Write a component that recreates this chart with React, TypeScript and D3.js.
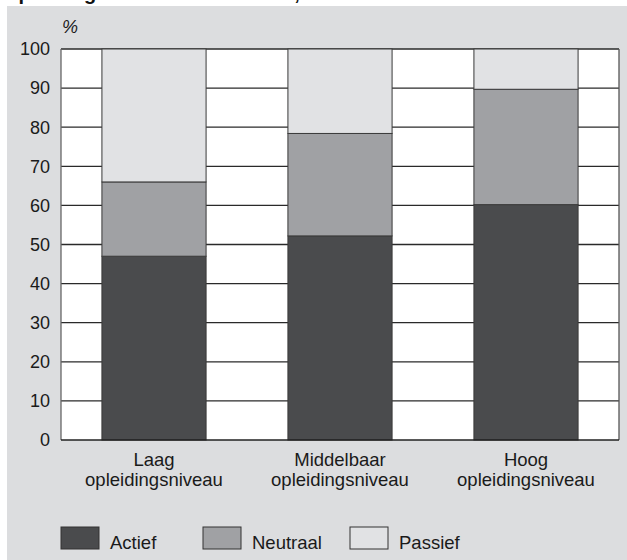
import * as d3 from "d3";

const categories = ["Laag|opleidingsniveau", "Middelbaar|opleidingsniveau", "Hoog|opleidingsniveau"];
const seriesNames = ["Actief", "Neutraal", "Passief"];
const actief = [47, 52.2, 60.2];
const neutraal = [19, 26.2, 29.5];
const passief = [34, 21.6, 10.3];
const yTicks = [0, 10, 20, 30, 40, 50, 60, 70, 80, 90, 100];

const colors = ["#4a4b4d", "#a0a1a4", "#e1e2e4"];
const font = "'Liberation Sans', Arial, Helvetica, sans-serif";

const width = 627;
const height = 560;
const marginLeft = 61;
const marginRight = 8;
const marginTop = 49;
const plotBottom = 440;

const App = () => {
  const rows = categories.map((c, i) => ({
    cat: c,
    Actief: actief[i],
    Neutraal: neutraal[i],
    Passief: passief[i],
  }));
  const stacked = d3.stack<any>().keys(seriesNames)(rows);

  const x = d3
    .scaleBand()
    .domain(categories)
    .range([marginLeft, width - marginRight])
    .paddingInner(0.44)
    .paddingOuter(0.22);

  const y = d3.scaleLinear().domain([0, 100]).range([plotBottom, marginTop]);

  const legendX = [61, 203, 350];

  return (
    <svg
      width={width}
      height={height}
      viewBox={`0 0 ${width} ${height}`}
      style={{ position: "absolute", left: 0, top: 0, fontFamily: font }}
    >
      <rect x={0} y={0} width={width} height={height} fill="#ffffff" />
      {/* title, cut off at the top edge as in the source */}
      <text x={3} y={-0.5} fontSize={20} fontWeight="bold" fill="#111">
        Opvattingen over betaald werk, 2008
      </text>
      <rect x={7} y={6} width={width - 7} height={height - 6} fill="#dcdddf" />

      {/* plot area */}
      <rect
        x={marginLeft}
        y={marginTop}
        width={width - marginRight - marginLeft}
        height={plotBottom - marginTop}
        fill="#ffffff"
      />
      <g>
        {yTicks.slice(1).map((t) => (
          <line
            key={t}
            x1={marginLeft}
            x2={width - marginRight}
            y1={y(t)}
            y2={y(t)}
            stroke="#2a2a2a"
            strokeWidth={1.3}
          />
        ))}
      </g>

      <g>
        {stacked.map((s, si) =>
          s.map((d, i) => (
            <rect
              key={`${si}-${i}`}
              x={x(categories[i])}
              y={y(d[1])}
              width={x.bandwidth()}
              height={y(d[0]) - y(d[1])}
              fill={colors[si]}
              stroke="#3a3a3a"
              strokeWidth={1}
            />
          ))
        )}
      </g>

      {/* frame */}
      <line x1={marginLeft} x2={marginLeft} y1={marginTop} y2={plotBottom} stroke="#666" strokeWidth={1.3} />
      <line
        x1={width - marginRight}
        x2={width - marginRight}
        y1={marginTop}
        y2={plotBottom}
        stroke="#555"
        strokeWidth={1.3}
      />
      <line x1={marginLeft} x2={width - marginRight} y1={plotBottom} y2={plotBottom} stroke="#222" strokeWidth={1.5} />

      {/* y ticks */}
      <g fontSize={18} fill="#1a1a1a" textAnchor="end">
        {yTicks.map((t) => (
          <text key={t} x={50} y={y(t)} dy="0.35em">
            {t}
          </text>
        ))}
      </g>
      <text x={62} y={33} fontSize={18} fontStyle="italic" fill="#1a1a1a">
        %
      </text>

      {/* x labels */}
      <g fontSize={18.5} fill="#1a1a1a" textAnchor="middle">
        {categories.map((c) => {
          const [a, b] = c.split("|");
          const cx = (x(c) ?? 0) + x.bandwidth() / 2;
          return (
            <text key={c} x={cx} y={466}>
              <tspan x={cx}>{a}</tspan>
              <tspan x={cx} y={485.7}>
                {b}
              </tspan>
            </text>
          );
        })}
      </g>

      {/* legend */}
      <g fontSize={18.5} fill="#1a1a1a">
        {seriesNames.map((n, i) => (
          <g key={n}>
            <rect
              x={legendX[i]}
              y={527}
              width={38}
              height={22}
              fill={colors[i]}
              stroke="#333"
              strokeWidth={1}
            />
            <text x={legendX[i] + 49} y={549}>
              {n}
            </text>
          </g>
        ))}
      </g>
    </svg>
  );
};

export default App;
